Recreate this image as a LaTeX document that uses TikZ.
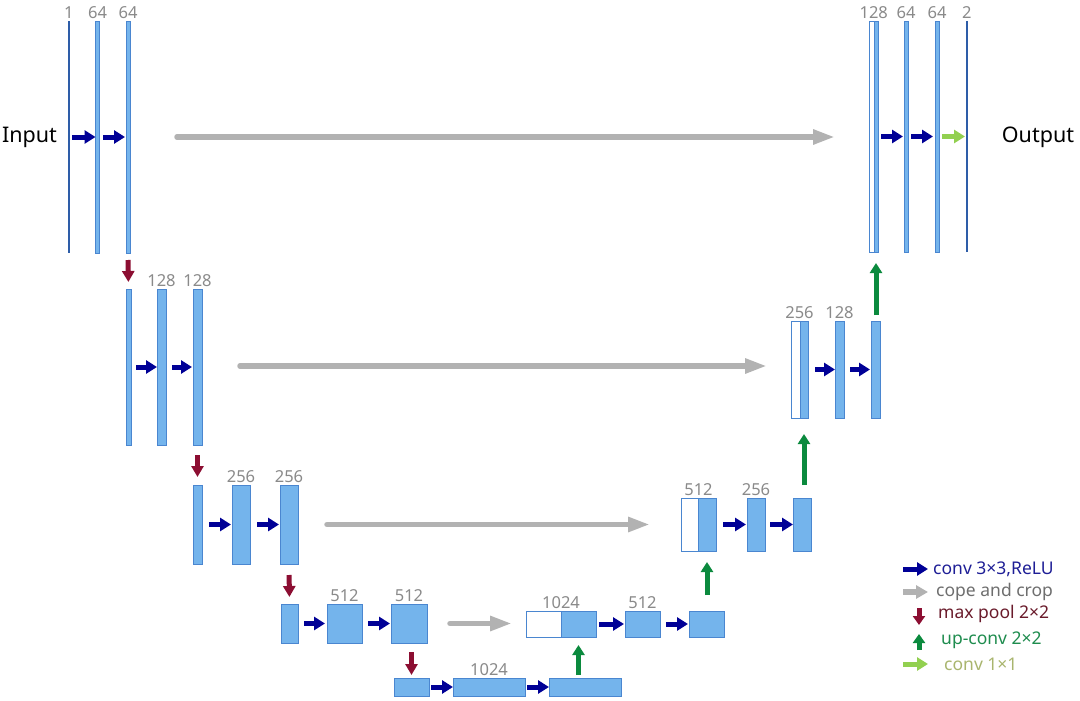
\documentclass[tikz,border=0pt]{standalone}
\usepackage{fontspec}
\setmainfont{Noto Sans}
\usetikzlibrary{arrows.meta,calc}
\definecolor{barfill}{HTML}{74B4EC}
\definecolor{baredge}{HTML}{4A86D0}
\definecolor{thinline}{HTML}{2E5DA8}
\definecolor{convblue}{HTML}{000096}
\definecolor{copygray}{HTML}{B2B2B2}
\definecolor{poolred}{HTML}{8C0E32}
\definecolor{upgreen}{HTML}{0B8A3E}
\definecolor{onegreen}{HTML}{92D050}
\definecolor{lblgray}{HTML}{8A8A8A}
\definecolor{tconv}{HTML}{1E1E96}
\definecolor{tcopy}{HTML}{6E6E6E}
\definecolor{tpool}{HTML}{6A1B2B}
\definecolor{tup}{HTML}{1E8C4E}
\definecolor{tone}{HTML}{A9B56E}
% \ublk[style]{name}{x1}{y1}{x2}{y2}
\newcommand\ublk[6][bar]{\node[#1,minimum width={(#5-#3)*1pt},minimum height={(#6-#4)*1pt}] (#2) at ({(#3+#5)/2},{(#4+#6)/2}) {};}
\begin{document}
\begin{tikzpicture}[x=1pt,y=-1pt,
  bar/.style={draw=baredge,fill=barfill,line width=0.8pt,inner sep=0pt,outer sep=0pt},
  wbar/.style={draw=baredge,fill=white,line width=0.8pt,inner sep=0pt,outer sep=0pt},
  thinbar/.style={fill=thinline,draw=none,inner sep=0pt,outer sep=0pt},
  lbl/.style={text=lblgray,font=\fontsize{16.5}{18}\selectfont,inner sep=2pt,anchor=south},
  io/.style={font=\fontsize{21.5}{24}\selectfont,inner sep=0pt},
  conv/.style={draw=convblue,line width=5pt,-{Triangle[length=11pt,width=13pt]}},
  one/.style={draw=onegreen,line width=5pt,-{Triangle[length=11pt,width=13pt]}},
  copyar/.style={draw=copygray,line width=5.5pt,line cap=round,-{Triangle[length=22pt,width=14pt]}},
  pool/.style={draw=poolred,line width=5pt,-{Triangle[length=11pt,width=12pt]}},
  upar/.style={draw=upgreen,line width=5pt,-{Triangle[length=10pt,width=12pt]}},
  legt/.style={font=\fontsize{17.5}{19}\selectfont,inner sep=0pt,anchor=west}]
\useasboundingbox (0,0) rectangle (1080,701);
\fill[white] (0,0) rectangle (1080,701);

% ---- level 1
\ublk[thinbar]{in1}{68}{21}{69.5}{253}
\ublk{b12}{95.5}{21}{99.5}{253}
\ublk{b13}{126}{21}{130}{253}
\ublk[wbar]{w1}{869.5}{21}{874}{252}
\ublk{u11}{874}{21}{878}{252}
\ublk{u12}{904}{21}{908}{252}
\ublk{u13}{935}{21}{939}{252}
\ublk[thinbar]{out}{966}{21}{967.5}{252}
% ---- level 2
\ublk{b21}{126}{289}{131}{445}
\ublk{b22}{157}{289}{166}{445}
\ublk{b23}{193}{289}{202}{445}
\ublk[wbar]{w2}{791}{321}{800}{418}
\ublk{u21}{800}{321}{808}{418}
\ublk{u22}{835}{321}{844}{418}
\ublk{u23}{871}{321}{880}{418}
% ---- level 3
\ublk{b31}{193}{485}{202}{564}
\ublk{b32}{232}{485}{250}{564}
\ublk{b33}{280}{485}{298}{564}
\ublk[wbar]{w3}{681}{498}{698}{551}
\ublk{u31}{698}{498}{716}{551}
\ublk{u32}{747}{498}{765}{551}
\ublk{u33}{793}{498}{811}{551}
% ---- level 4
\ublk{b41}{281}{604}{298}{643}
\ublk{b42}{327}{604}{362}{643}
\ublk{b43}{391}{604}{427}{643}
\ublk[wbar]{w4}{526}{611}{561}{637}
\ublk{u41}{561}{611}{596}{637}
\ublk{u42}{625}{611}{660}{637}
\ublk{u43}{689}{611}{724}{637}
% ---- level 5
\ublk{b51}{394}{678}{429}{696}
\ublk{b52}{453}{678}{525}{696}
\ublk{b53}{549}{678}{621}{696}

% ---- labels
\node[lbl] (l11) at (in1.north) {1};
\node[lbl] (l12) at (b12.north) {64};
\node[lbl] (l13) at (b13.north) {64};
\node[lbl] (r11) at ($(w1.north west)!0.5!(u11.north east)$) {128};
\node[lbl] (r12) at (u12.north) {64};
\node[lbl] (r13) at (u13.north) {64};
\node[lbl] (r14) at (out.north) {2};
\node[lbl] (l22) at (b22.north) {128};
\node[lbl] (l23) at (b23.north) {128};
\node[lbl] (r21) at ($(w2.north west)!0.5!(u21.north east)$) {256};
\node[lbl] (r22) at (u22.north) {128};
\node[lbl] (l32) at (b32.north) {256};
\node[lbl] (l33) at (b33.north) {256};
\node[lbl] (r31) at ($(w3.north west)!0.5!(u31.north east)$) {512};
\node[lbl] (r32) at (u32.north) {256};
\node[lbl] (l42) at (b42.north) {512};
\node[lbl] (l43) at (b43.north) {512};
\node[lbl] (r41) at ($(w4.north west)!0.5!(u41.north east)$) {1024};
\node[lbl] (r42) at (u42.north) {512};
\node[lbl] (l52) at (b52.north) {1024};

\node[io] (inp) at (29.5,137) {Input};
\node[io] (outp) at (1038,137) {Output};

% ---- conv 3x3 arrows
\draw[conv,shorten <=2.5pt] (in1.east) -- (b12.west);
\draw[conv,shorten <=3.5pt,shorten >=1pt] (b12.east) -- (b13.west);
\draw[conv,shorten <=5pt] (b21.east) -- (b22.west);
\draw[conv,shorten <=6pt,shorten >=1pt] (b22.east) -- (b23.west);
\draw[conv,shorten <=7pt,shorten >=1pt] (b31.east) -- (b32.west);
\draw[conv,shorten <=7pt,shorten >=1pt] (b32.east) -- (b33.west);
\draw[conv,shorten <=6pt,shorten >=2pt] (b41.east) -- (b42.west);
\draw[conv,shorten <=6pt,shorten >=1pt] (b42.east) -- (b43.west);
\draw[conv,shorten <=2pt] (b51.east) -- (b52.west);
\draw[conv,shorten <=2pt] (b52.east) -- (b53.west);
\draw[conv,shorten <=3pt,shorten >=1pt] (u41.east) -- (u42.west);
\draw[conv,shorten <=6pt,shorten >=1pt] (u42.east) -- (u43.west);
\draw[conv,shorten <=7pt,shorten >=1pt] (u31.east) -- (u32.west);
\draw[conv,shorten <=5pt] (u32.east) -- (u33.west);
\draw[conv,shorten <=7pt] (u21.east) -- (u22.west);
\draw[conv,shorten <=6pt,shorten >=1pt] (u22.east) -- (u23.west);
\draw[conv,shorten <=3pt,shorten >=1pt] (u11.east) -- (u12.west);
\draw[conv,shorten <=3pt,shorten >=2pt] (u12.east) -- (u13.west);
\draw[one,shorten <=3pt,shorten >=1pt] (u13.east) -- (out.west);

% ---- copy and crop
\draw[copyar,shorten <=47pt,shorten >=34.5pt] (b13.east) -- (b13.east -| w1.west);
\draw[copyar,shorten <=38pt,shorten >=24pt] ([yshift=1pt]b23.east) -- ([yshift=1pt]b23.east -| w2.west);
\draw[copyar,shorten <=29pt,shorten >=31pt] (b33.east) -- (b33.east -| w3.west);
\draw[copyar,shorten <=23pt,shorten >=14pt] (b43.east) -- (b43.east -| w4.west);

% ---- max pool
\draw[pool,shorten <=7pt,shorten >=7pt] (b13.south) -- (b21.north);
\draw[pool,shorten <=10pt,shorten >=8pt] (b23.south) -- (b31.north);
\draw[pool,shorten <=11pt,shorten >=7pt] (b33.south) -- (b41.north);
\draw[pool,shorten <=9pt,shorten >=3pt] (b51.north |- b43.south) -- (b51.north);

% ---- up-conv
\draw[upar,shorten <=3pt,shorten >=8pt] (u41.south |- b53.north) -- (u41.south);
\draw[upar,shorten <=16pt,shorten >=11pt] (u31.south |- u43.north) -- (u31.south);
\draw[upar,shorten <=13pt,shorten >=16pt] (u21.south |- u33.north) -- (u21.south);
\draw[upar,shorten <=6pt,shorten >=11pt] (u11.south |- u23.north) -- (u11.south);

% ---- legend
\node[legt,text=tconv] (lt1) at (933,569) {conv 3×3,ReLU};
\node[legt,text=tcopy] (lt2) at (936,592) {cope and crop};
\node[legt,text=tpool] (lt3) at (938,614) {max pool 2×2};
\node[legt,text=tup] (lt4) at (941,640) {up-conv 2×2};
\node[legt,text=tone] (lt5) at (944,664) {conv 1×1};
\coordinate (lg1) at (903,569);
\coordinate (lg2) at (903,592);
\coordinate (lg3a) at (919,608);
\coordinate (lg3b) at (919,625);
\coordinate (lg4a) at (919,650);
\coordinate (lg4b) at (919,634);
\coordinate (lg5) at (903,664);
\draw[conv] (lg1) -- ([xshift=-5pt]lt1.west);
\draw[copyar,line cap=butt,-{Triangle[length=12pt,width=13pt]}] (lg2) -- ([xshift=-8pt]lt2.west);
\draw[pool,-{Triangle[length=9pt,width=12pt]}] (lg3a) -- (lg3b);
\draw[upar,-{Triangle[length=9pt,width=12pt]}] (lg4a) -- (lg4b);
\draw[one] (lg5) -- ([xshift=-16pt]lt5.west);
\end{tikzpicture}
\end{document}
